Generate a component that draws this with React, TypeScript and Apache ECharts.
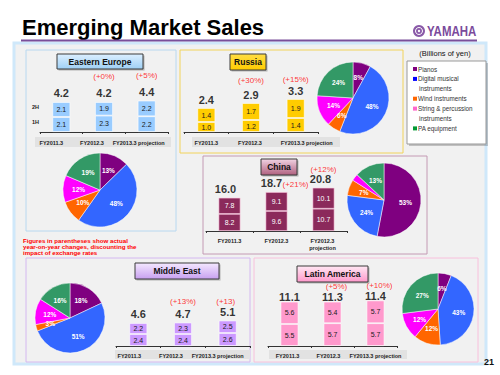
import React, { useEffect, useRef } from 'react';
import * as echarts from 'echarts';

const segments = ['Pianos', 'Digital musical instruments', 'Wind instruments', 'String & percussion instruments', 'PA equipment'];
const legendLines = [['Pianos'], ['Digital musical', 'instruments'], ['Wind instruments'], ['String & percussion', 'instruments'], ['PA equipment']];

const fyCategories = ['FY2011.3', 'FY2012.3', 'FY2013.3 projection'];
const chinaCategories = ['FY2011.3', 'FY2012.3', 'FY2012.3\nprojection'];

const eeFirstHalf = [2.1, 2.3, 2.2];
const eeSecondHalf = [2.1, 1.9, 2.2];
const eeTotals = [4.2, 4.2, 4.4];
const eeChanges = ['', '(+0%)', '(+5%)'];
const eeShares = [13, 48, 10, 12, 19];

const ruFirstHalf = [1.0, 1.2, 1.4];
const ruSecondHalf = [1.4, 1.7, 1.9];
const ruTotals = [2.4, 2.9, 3.3];
const ruChanges = ['', '(+30%)', '(+15%)'];
const ruShares = [8, 48, 6, 14, 24];

const cnFirstHalf = [8.2, 9.6, 10.7];
const cnSecondHalf = [7.8, 9.1, 10.1];
const cnTotals = [16.0, 18.7, 20.8];
const cnChanges = ['', '(+21%)', '(+12%)'];
const cnShares = [53, 24, 7, 3, 13];

const meFirstHalf = [2.4, 2.4, 2.6];
const meSecondHalf = [2.2, 2.3, 2.5];
const meTotals = [4.6, 4.7, 5.1];
const meChanges = ['', '(+13%)', '(+13)'];
const meShares = [18, 51, 3, 12, 16];

const laFirstHalf = [5.5, 5.7, 5.7];
const laSecondHalf = [5.6, 5.4, 5.7];
const laTotals = [11.1, 11.3, 11.4];
const laChanges = ['', '(+5%)', '(+10%)'];
const laShares = [6, 43, 12, 12, 27];

const pieColors = ['#7f0080', '#3366ff', '#ff6600', '#ff00ff', '#339966'];
const legendColors = ['#800080', '#0000ff', '#ff6600', '#ff66cc', '#009933'];

const FONT = 'Liberation Sans, Arial, sans-serif';

const regions = [
  {
    name: 'Eastern Europe', first: eeFirstHalf, second: eeSecondHalf, totals: eeTotals, changes: eeChanges, shares: eeShares, cats: fyCategories,
    color: '#99ccff', sep: 'rgba(255,255,255,0.8)', labelColor: '#1a1a1a', grid: { left: 40, top: 82, width: 128, height: 50 }, max: 7, barWidth: 18,
    pie: { center: [100, 190], r: 37 }, totalOff: [[0, 0], [0, 0], [0, 0]], changeOff: [[0, -18], [0, -18], [0, -18]], labelMargin: 7,
    labelShift: [-10, -12, -8],
  },
  {
    name: 'Russia', first: ruFirstHalf, second: ruSecondHalf, totals: ruTotals, changes: ruChanges, shares: ruShares, cats: fyCategories,
    color: '#ffcc00', sep: 'rgba(255,255,255,0.8)', labelColor: '#1a1a1a', grid: { left: 184, top: 82, width: 134, height: 50 }, max: 5, barWidth: 18,
    pie: { center: [353, 98], r: 36 }, totalOff: [[0, 1], [0, 1], [0, 1]], changeOff: [[0, -15], [0, -15], [0, -12]], labelMargin: 7,
    labelShift: [0, -1, 11],
  },
  {
    name: 'China', first: cnFirstHalf, second: cnSecondHalf, totals: cnTotals, changes: cnChanges, shares: cnShares, cats: chinaCategories,
    color: '#8b2a5b', sep: 'rgba(255,200,225,0.7)', labelColor: '#ffffff', grid: { left: 206, top: 181, width: 141, height: 50 }, max: 24, barWidth: 22,
    pie: { center: [384, 200], r: 37 }, totalOff: [[-4, 0], [-5, 0], [-3, 0]], changeOff: [[0, 0], [19, 0], [0, -10.5]], labelMargin: 6,
    labelShift: [0, 0, -1],
  },
  {
    name: 'Middle East', first: meFirstHalf, second: meSecondHalf, totals: meTotals, changes: meChanges, shares: meShares, cats: fyCategories,
    color: '#cc99ff', sep: 'rgba(255,255,255,0.8)', labelColor: '#1a1a1a', grid: { left: 116, top: 296, width: 134, height: 50 }, max: 10, barWidth: 18,
    pie: { center: [70, 318], r: 35 }, totalOff: [[0, 0], [0, 0], [0, 0]], changeOff: [[0, -14], [0, -14], [-2, -12]], labelMargin: 6,
    labelShift: [-9, -12, -10],
  },
  {
    name: 'Latin America', first: laFirstHalf, second: laSecondHalf, totals: laTotals, changes: laChanges, shares: laShares, cats: fyCategories,
    color: '#ff99cc', sep: 'rgba(255,255,255,0.8)', labelColor: '#1a1a1a', grid: { left: 268, top: 296, width: 129, height: 50 }, max: 12.5, barWidth: 18,
    pie: { center: [438, 309], r: 36 }, totalOff: [[0, 4.5], [0, 5], [0, 4.5]], changeOff: [[0, -7], [4, -7], [4, -7]], labelMargin: 6,
    labelShift: [-2, -4, 0],
  },
];

const panels = [
  { x: 26, y: 50, w: 150, h: 181, stroke: '#b8d8f0' },
  { x: 180, y: 50, w: 223, h: 103, stroke: '#f2d35a' },
  { x: 203, y: 156, w: 224, h: 98, stroke: '#c49ab4' },
  { x: 26, y: 258, w: 224, h: 104, stroke: '#d4b8f0' },
  { x: 254, y: 258, w: 224, h: 104, stroke: '#f8c0dc' },
];

const titleBoxes = [
  { x: 57, y: 54, w: 86, h: 15, c1: '#dcefff', c2: '#9fd0f5' },
  { x: 230, y: 54, w: 36, h: 16, c1: '#ffdd44', c2: '#ffcc00' },
  { x: 261, y: 159, w: 36, h: 16, c1: '#f2d4e4', c2: '#b0607f' },
  { x: 135, y: 263, w: 84, h: 16, c1: '#f4e8ff', c2: '#c8a0f0' },
  { x: 297, y: 266, w: 71, h: 16, c1: '#ffe8f4', c2: '#ff99cc' },
];

const labelStrips = [
  { x: 35, y: 137, w: 136, h: 10 },
  { x: 192, y: 137, w: 148, h: 10 },
  { x: 115, y: 350, w: 135, h: 9 },
  { x: 269, y: 350, w: 138, h: 9 },
];

export default function App() {
  const ref = useRef<HTMLDivElement>(null);
  useEffect(() => {
    if (!ref.current) return;
    const chart = echarts.init(ref.current, undefined, { renderer: 'svg' });

    const grids: any[] = [];
    const xAxes: any[] = [];
    const yAxes: any[] = [];
    const series: any[] = [];

    regions.forEach((r, i) => {
      grids.push({ ...r.grid, containLabel: false });
      xAxes.push({
        type: 'category', gridIndex: i,
        data: r.cats.map((c, k) => {
          const s = r.labelShift[k];
          return { value: c, textStyle: { padding: s < 0 ? [0, -2 * s, 0, 0] : [0, 0, 0, 2 * s] } };
        }),
        axisLine: { show: true, lineStyle: { color: '#333', width: 1 } },
        axisTick: { show: true, length: 2, lineStyle: { color: '#333' } },
        axisLabel: { interval: 0, fontSize: 5.5, fontWeight: 'bold', color: '#222', margin: r.labelMargin, lineHeight: 7, fontFamily: FONT },
      });
      yAxes.push({ type: 'value', gridIndex: i, min: 0, max: r.max, show: false, splitLine: { show: false } });
      const common = {
        type: 'bar', stack: 's' + i, xAxisIndex: i, yAxisIndex: i, barWidth: r.barWidth,
        itemStyle: { color: r.color, borderColor: r.sep, borderWidth: 0.8 },
        label: { show: true, position: 'inside', fontSize: 7, color: r.labelColor, fontFamily: FONT, formatter: (p: any) => Number(p.value).toFixed(1) },
      };
      series.push({ ...common, name: r.name + ' 1H', data: r.first });
      series.push({ ...common, name: r.name + ' 2H', data: r.second });
      series.push({
        type: 'scatter', xAxisIndex: i, yAxisIndex: i, symbolSize: 1, itemStyle: { color: 'rgba(0,0,0,0)' },
        data: r.totals.map((v, k) => ({ value: v, label: { offset: r.totalOff[k] } })),
        label: { show: true, position: 'top', distance: 3, fontSize: 11, fontWeight: 'bold', color: '#000', fontFamily: FONT,
          formatter: (p: any) => r.totals[p.dataIndex].toFixed(1) },
        z: 5,
      });
      series.push({
        type: 'scatter', xAxisIndex: i, yAxisIndex: i, symbolSize: 1, itemStyle: { color: 'rgba(0,0,0,0)' },
        data: r.totals.map((v, k) => ({ value: v, label: { offset: r.changeOff[k] } })),
        label: { show: true, position: 'top', distance: 3, fontSize: 8, color: '#ff0000', fontFamily: FONT,
          formatter: (p: any) => r.changes[p.dataIndex] },
        z: 5,
      });
      series.push({
        type: 'pie', center: r.pie.center, radius: r.pie.r, startAngle: 90, clockwise: true,
        data: r.shares.map((v, k) => ({ name: segments[k], value: v, itemStyle: { color: pieColors[k] } })),
        label: { show: true, position: 'inside', formatter: '{c}%', color: '#fff', fontSize: 6.5, fontWeight: 'bold', fontFamily: FONT },
        labelLine: { show: false },
        itemStyle: { borderColor: '#ffffff', borderWidth: 0.5 },
      });
    });

    const graphics: any[] = [];
    graphics.push({ type: 'rect', shape: { x: 14, y: 43, width: 472, height: 321 }, style: { fill: '#f1f1f1', stroke: '#cfe8fa', lineWidth: 3 }, z: -20 });
    panels.forEach((p) => {
      graphics.push({ type: 'rect', shape: { x: p.x, y: p.y, width: p.w, height: p.h }, style: { fill: 'rgba(0,0,0,0)', stroke: p.stroke, lineWidth: 1 }, z: -10 });
    });
    labelStrips.forEach((s) => {
      graphics.push({ type: 'rect', shape: { x: s.x, y: s.y, width: s.w, height: s.h }, style: { fill: '#e2e2e2' }, z: -5 });
    });
    titleBoxes.forEach((b, i) => {
      graphics.push({ type: 'rect', shape: { x: b.x + 1.5, y: b.y + 1.5, width: b.w, height: b.h }, style: { fill: 'rgba(0,0,0,0.25)' }, z: 1 });
      graphics.push({
        type: 'rect', shape: { x: b.x, y: b.y, width: b.w, height: b.h },
        style: { fill: new echarts.graphic.LinearGradient(0, 0, 0, 1, [{ offset: 0, color: b.c1 }, { offset: 1, color: b.c2 }]), stroke: '#3a3a3a', lineWidth: 1 }, z: 2,
      });
      graphics.push({
        type: 'text', x: b.x + b.w / 2, y: b.y + b.h / 2,
        style: { text: regions[i].name, fontSize: 8.5, fontWeight: 'bold', fill: '#111', align: 'center', verticalAlign: 'middle', fontFamily: FONT }, z: 3,
      });
    });
    graphics.push({ type: 'text', x: 22, y: 27, style: { text: 'Emerging Market Sales', fontSize: 22, fontWeight: 'bold', fill: '#000', verticalAlign: 'middle', fontFamily: FONT }, z: 5 });
    graphics.push({ type: 'line', shape: { x1: 21, y1: 40.5, x2: 477, y2: 40.5 }, style: { stroke: '#7a4f9a', lineWidth: 2 }, z: 5 });
    graphics.push({ type: 'circle', shape: { cx: 419, cy: 31, r: 6 }, style: { fill: '#8a5aa8' }, z: 5 });
    graphics.push({ type: 'circle', shape: { cx: 419, cy: 31, r: 3.5 }, style: { fill: 'none', stroke: '#fff', lineWidth: 1 }, z: 6 });
    graphics.push({ type: 'circle', shape: { cx: 419, cy: 31, r: 1.2 }, style: { fill: '#fff' }, z: 6 });
    graphics.push({ type: 'text', x: 427, y: 31, scaleX: 0.82, style: { text: 'YAMAHA', fontSize: 14, fontWeight: 'bold', fill: '#7b4b9c', verticalAlign: 'middle', fontFamily: FONT }, z: 5 });
    graphics.push({ type: 'text', x: 445, y: 53, style: { text: '(Billions of yen)', fontSize: 7.5, fill: '#111', align: 'center', verticalAlign: 'middle', fontFamily: FONT }, z: 5 });
    graphics.push({ type: 'rect', shape: { x: 409, y: 63, width: 79, height: 83 }, style: { fill: 'rgba(0,0,0,0.2)' }, z: 4 });
    graphics.push({ type: 'rect', shape: { x: 407, y: 61, width: 79, height: 83 }, style: { fill: '#fff', stroke: '#999', lineWidth: 1 }, z: 5 });
    let ly = 69;
    legendLines.forEach((lines, k) => {
      graphics.push({ type: 'rect', shape: { x: 413, y: ly - 2, width: 4, height: 4 }, style: { fill: legendColors[k] }, z: 6 });
      lines.forEach((t, j) => {
        graphics.push({ type: 'text', x: j === 0 ? 418 : 419, y: ly, style: { text: t, fontSize: 6.3, fill: '#333', verticalAlign: 'middle', fontFamily: FONT }, z: 6 });
        ly += 9.9;
      });
    });
    graphics.push({ type: 'text', x: 32, y: 107, style: { text: '2H', fontSize: 5.5, fontWeight: 'bold', fill: '#222', verticalAlign: 'middle', fontFamily: FONT }, z: 5 });
    graphics.push({ type: 'text', x: 32, y: 122, style: { text: '1H', fontSize: 5.5, fontWeight: 'bold', fill: '#222', verticalAlign: 'middle', fontFamily: FONT }, z: 5 });
    graphics.push({
      type: 'text', x: 23, y: 237,
      style: { text: 'Figures in parentheses show actual\nyear-on-year changes, discounting the\nimpact of exchange rates', fontSize: 6.2, lineHeight: 6, fontWeight: 'bold', fill: '#ff0000', verticalAlign: 'top', fontFamily: FONT }, z: 5,
    });
    graphics.push({ type: 'text', x: 489, y: 362, style: { text: '21', fontSize: 9, fontWeight: 'bold', fill: '#111', align: 'center', verticalAlign: 'middle', fontFamily: FONT }, z: 5 });

    chart.setOption({
      animation: false,
      backgroundColor: '#ffffff',
      textStyle: { fontFamily: FONT },
      grid: grids,
      xAxis: xAxes,
      yAxis: yAxes,
      series,
      graphic: { elements: graphics },
    });
    return () => chart.dispose();
  }, []);
  return <div ref={ref} style={{ position: 'absolute', left: 0, top: 0, width: 500, height: 375 }} />;
}
